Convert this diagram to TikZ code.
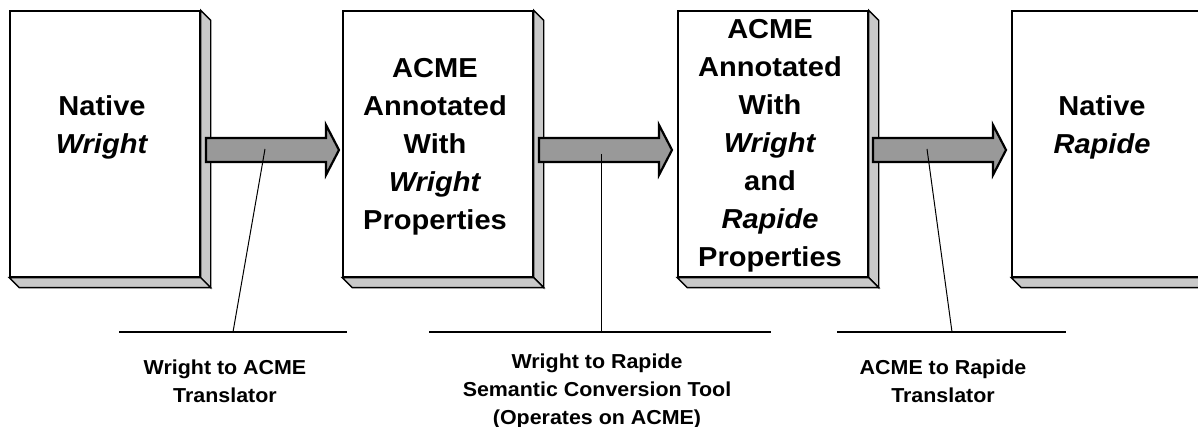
\documentclass[tikz,border=0pt]{standalone}
\usepackage{fontspec}
\setmainfont{Liberation Sans}[FakeStretch=1.06]
\usetikzlibrary{calc}

\definecolor{sidegray}{gray}{0.79}
\definecolor{arrowgray}{gray}{0.6}

\begin{document}
\begin{tikzpicture}[x=0.5pt,y=0.5pt]
	\tikzset{
		box/.style={draw, fill=white, line width=0.7pt, inner sep=0pt, minimum width=95pt, minimum height=133pt},
		depth/.style={draw, fill=sidegray, line width=0.7pt},
		boxtext/.style={font=\fontsize{13.7}{19}\selectfont\bfseries, align=center},
		tooltext/.style={font=\fontsize{10.1}{14}\selectfont\bfseries, align=center},
		fatarrow/.style={draw, fill=arrowgray, line width=1.1pt},
		leader/.style={line width=0.5pt},
		shelf/.style={line width=0.7pt},
	}
	\useasboundingbox (0,0) rectangle (1198,427);
	\clip (0,0) rectangle (1198,427);
	% the four boxes with their depth
	\foreach \n/\x in {1/105, 2/438, 3/773, 4/1107}{
		\node[box] (b\n) at (\x,283) {};
		\draw[depth] (b\n.north east) -- ++(10,-10) -- ($(b\n.south east)+(10,-10)$) -- (b\n.south east) -- cycle;
		\draw[depth] (b\n.south west) -- ++(10,-10) -- ($(b\n.south east)+(10,-10)$) -- (b\n.south east) -- cycle;
	}
	\node[boxtext] (n1) at (102,300) {Native\\\textit{Wright}};
	\node[boxtext] (n2) at (435,280) {ACME\\Annotated\\With\\\textit{Wright}\\Properties};
	\node[boxtext] (n3) at (770,281) {ACME\\Annotated\\With\\\textit{Wright}\\and\\\textit{Rapide}\\Properties};
	\node[boxtext] (n4) at (1102,300) {Native\\\textit{Rapide}};
	% block arrows
	\foreach \n/\x in {1/206, 2/539, 3/873}{
		\draw[fatarrow] (\x,289) -- ++(120,0) -- ++(0,13) -- ++(13,-25) -- ++(-13,-25) -- ++(0,13) -- ++(-120,0) -- cycle;
	}
	% leaders and shelves
	\foreach \n/\s/\t/\e/\l/\r in {1/265/278/233/119/347, 2/601/273/601/429/771, 3/927/278/952/837/1066}{
		\coordinate (p\n) at (\s,\t);
		\coordinate (q\n) at (\e,95);
		\draw[leader] (p\n) -- (q\n);
		\draw[shelf] (\l,95) -- (\r,95);
	}
	\node[tooltext] (t1) at (225,46) {Wright to ACME\\Translator};
	\node[tooltext] (t2) at (597,36) {Wright to Rapide\\Semantic Conversion Tool\\(Operates on ACME)};
	\node[tooltext] (t3) at (943,46) {ACME to Rapide\\Translator};
\end{tikzpicture}
\end{document}
